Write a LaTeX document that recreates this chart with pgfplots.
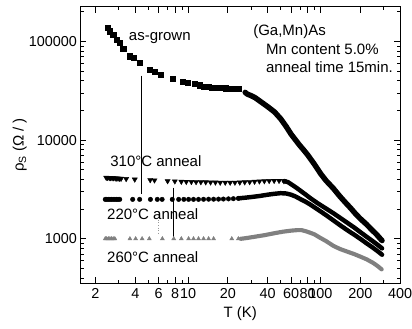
\documentclass[border=0pt]{standalone}
\usepackage{fontspec}
\setmainfont{Liberation Sans}
\usepackage{pgfplots}
\pgfplotsset{compat=1.18}
\begin{document}
\newcommand{\fs}{\fontsize{15.2bp}{18bp}\selectfont}
\newcommand{\ft}{\fontsize{14.6bp}{17bp}\selectfont}
\begin{tikzpicture}
\begin{axis}[
  scale only axis, width=324bp, height=280bp,
  xmode=log, ymode=log,
  xmin=1.54, xmax=400, ymin=355, ymax=224000,
  xtick={2,4,6,8,10,20,40,60,80,100,200,400},
  xticklabels={2,4,6,8,10,20,40,60,80,100,200,400},
  minor xtick={3,5,7,9,30,50,70,90,300},
  ytick={1000,10000,100000},
  yticklabels={1000,10000,100000},
  minor ytick={400,500,600,700,800,900,2000,3000,4000,5000,6000,7000,8000,9000,20000,30000,40000,50000,60000,70000,80000,90000,200000},
  major tick length=6bp, minor tick length=3.5bp,
  tick align=inside,
  every tick/.style={black, line width=0.8bp},
  axis line style={line width=1.1bp},
  tick label style={font=\ft},
  xticklabel style={yshift=-2bp},
  /pgf/number format/assume math mode=true,
  xlabel={T (K)}, ylabel={ρ\textsubscript{S} (Ω / )},
  label style={font=\fs},
  xlabel style={at={(axis description cs:0.5,-0.111)}, anchor=center},
  ylabel style={at={(axis description cs:-0.19,0.5)}, anchor=center},
  clip=false,
]
% as-grown sparse squares
\addplot[only marks, mark=square*, mark size=2.6bp, black] coordinates {
(2.47,139000) (2.57,127000) (2.72,117000) (2.88,105000) (3.05,97000) (3.24,85000)
(3.63,71000) (3.88,69000) (4.31,61000) (5.11,52000) (5.57,49000) (6.24,46000)
(7.62,42000) (9.06,39000) (10.0,38000) (11.2,37000) (12.3,36000) (13.2,35000)
(14.3,34500) (15.0,34300) (15.8,34000) (16.6,33800) (18.5,33700) (19.4,33600)
(20.3,33500) (21.2,33400) (22.1,33300) (23.2,33200) (24.2,33000)
};
% as-grown dense part
\addplot[black, line width=5.5bp, line cap=round, mark=none] coordinates {
(27,30500) (28,29300) (30,28200) (32,27000) (34,25500) (37,23500) (40,21800)
(45,19300) (50,16500) (55,13800) (60,11500) (65,10000) (70,8800) (75,7900)
(80,7100) (90,5700) (100,4600) (110,3900) (125,3250) (140,2700) (155,2320)
(170,2030) (185,1780) (200,1600) (223,1400) (245,1230) (265,1110) (280,1020) (292,960)
};
% 310 C anneal sparse triangles down
\addplot[only marks, mark=triangle*, mark options={rotate=180}, mark size=3bp, black] coordinates {
(2.41,4170) (2.47,4160) (2.54,4150) (2.60,4140) (2.67,4130) (2.74,4120) (2.82,4110)
(2.89,4100) (2.96,4090) (3.04,4080) (3.12,4070) (3.41,4050) (3.96,4000) (5.18,3950)
(5.58,3920) (7.01,3850) (7.95,3830)
(8.9,3800) (9.7,3790) (10.6,3780) (11.5,3770) (12.5,3760) (13.6,3750) (14.8,3740)
(16.1,3730) (17.5,3720) (19.1,3720) (20.8,3720) (22.6,3720) (24.6,3730) (26.8,3750)
(29.2,3770) (31.8,3800) (34.6,3830) (37.7,3850) (41.0,3870) (44.7,3880) (48.7,3880) (53.0,3850)
};
\addplot[black, line width=4.5bp, line cap=round, mark=none] coordinates {
(53,3850) (57,3750) (60,3580) (65,3330) (70,3100) (77,2820) (84,2580) (95,2300)
(110,2030) (125,1820) (140,1640) (160,1450) (180,1300) (200,1170) (223,1050)
(250,940) (270,870) (292,800)
};
% 220 C anneal circles
\addplot[only marks, mark=*, mark size=2.3bp, black] coordinates {
(2.37,2510) (2.43,2510) (2.5,2510) (2.57,2510) (2.64,2510) (2.72,2510) (2.8,2510)
(2.88,2510) (2.96,2510) (3.05,2510) (3.82,2510) (4.31,2510) (5.2,2510) (5.86,2510)
(6.37,2510) (7.6,2510) (8.5,2510) (9.3,2510) (10.1,2510) (11.0,2510) (12.0,2510)
(13.1,2515) (14.3,2520) (15.6,2520) (17.0,2525) (18.5,2530) (20.2,2540) (22.0,2550) (24.0,2570)
};
\addplot[black, line width=4.5bp, line cap=round, mark=none] coordinates {
(24,2570) (27,2610) (30,2650) (35,2720) (40,2800) (45,2860) (50,2900) (55,2880)
(60,2800) (65,2680) (70,2540) (77,2380) (84,2220) (95,1990) (110,1740) (125,1540)
(140,1380) (160,1220) (180,1100) (200,1000) (223,900) (250,810) (270,750) (292,690)
};
% 260 C anneal gray triangles
\addplot[only marks, mark=triangle*, mark size=2.4bp, black!50] coordinates {
(2.37,1000) (2.43,1000) (2.5,1000) (2.57,1000) (2.64,1000) (2.72,1000) (2.8,1000)
(3.64,1000) (4.02,1000) (4.5,1000) (5.1,1000) (6.4,1000) (7.8,1000) (8.9,1000)
(10.1,1000) (11.0,1000) (12.0,1000) (13.1,1000) (14.3,1000) (15.6,1000) (21.4,1000) (24.0,1000)
};
\addplot[black!50, line width=4.2bp, line cap=round, mark=none] coordinates {
(25,1000) (28,1020) (32,1050) (38,1090) (45,1140) (52,1180) (60,1210) (67,1225)
(72,1225) (78,1190) (84,1150) (90,1110) (100,1020) (110,950) (125,850) (140,790)
(160,740) (180,700) (200,660) (223,620) (250,570) (270,530) (290,490)
};
% vertical pointer lines
\addplot[black, line width=0.7bp, mark=none] coordinates {(4.46,45000) (4.46,2820)};
\addplot[black, line width=0.7bp, mark=none] coordinates {(7.68,3310) (7.68,1050)};
\addplot[black!40, line width=0.6bp, dotted, mark=none] coordinates {(5.97,1860) (5.97,1100)};
% labels
\node[anchor=west, inner sep=0, font=\fs] at (rel axis cs:0.151,0.889) {as-grown};
\node[anchor=west, inner sep=0, font=\fs] at (rel axis cs:0.540,0.911) {(Ga,Mn)As};
\node[anchor=west, inner sep=0, font=\fs] at (rel axis cs:0.580,0.846) {Mn content 5.0\%};
\node[anchor=west, inner sep=0, font=\fs] at (rel axis cs:0.580,0.782) {anneal time 15min.};
\node[anchor=west, inner sep=0, font=\fs] at (rel axis cs:0.093,0.443) {310°C anneal};
\node[anchor=west, inner sep=0, font=\fs] at (rel axis cs:0.083,0.250) {220°C anneal};
\node[anchor=west, inner sep=0, font=\fs] at (rel axis cs:0.083,0.096) {260°C anneal};
\end{axis}
\pgfresetboundingbox
\path[use as bounding box] ([shift={(-76bp,-46bp)}]current axis.south west) rectangle ([shift={(12bp,7bp)}]current axis.north east);
\end{tikzpicture}
\end{document}
